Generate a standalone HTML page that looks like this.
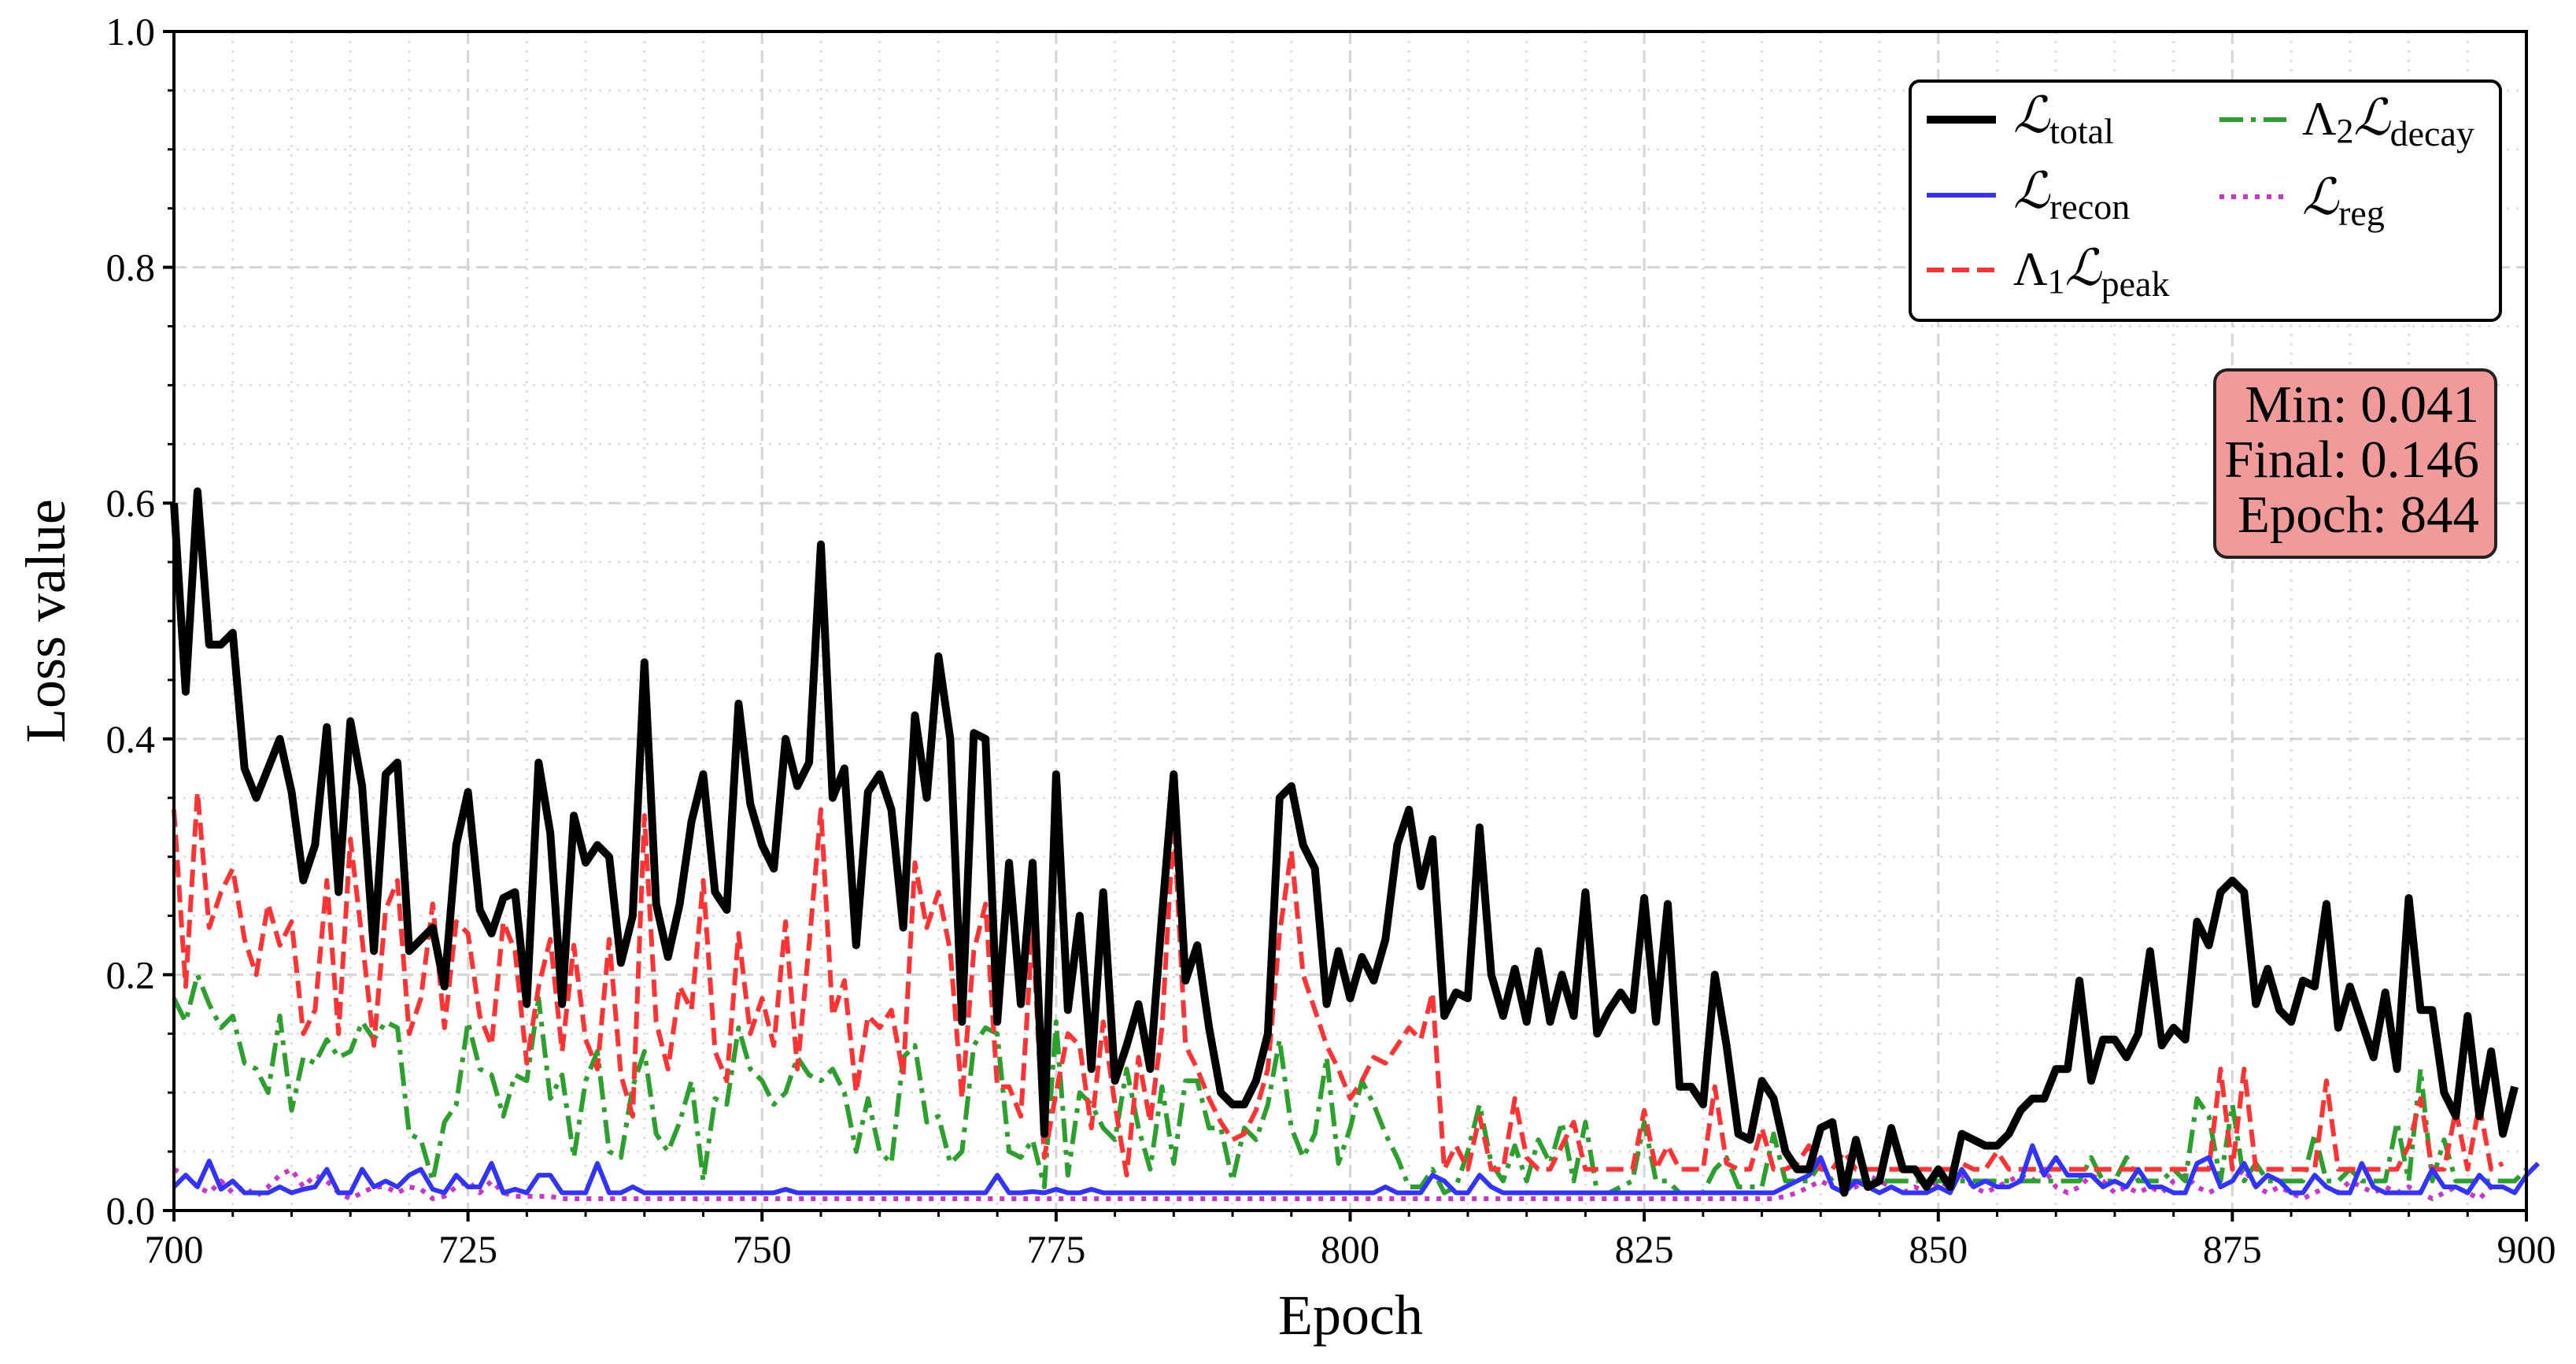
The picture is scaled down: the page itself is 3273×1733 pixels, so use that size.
<!DOCTYPE html>
<html><head><meta charset="utf-8"><style>
html,body{margin:0;padding:0;background:#fff;}
svg{display:block;font-family:"Liberation Serif","DejaVu Serif",serif;}
</style></head><body>
<svg id="chart" width="3273" height="1733" viewBox="0 0 3273 1733" xmlns="http://www.w3.org/2000/svg">
<rect x="0" y="0" width="3273" height="1733" fill="#fff"/>
<g id="grid"></g>
<g id="series"></g>
<g id="axes"></g>
<g>
<rect x="2427" y="103" width="750" height="304" rx="12" fill="#fff" stroke="#000" stroke-width="4"/>
<g>
<line x1="2448" y1="152" x2="2536" y2="152" stroke="#000" stroke-width="10"/>
<text x="2558" y="168" font-size="64" font-family="DejaVu Serif, serif" font-style="italic">ℒ<tspan font-size="46" dy="14" font-style="normal" font-family="Liberation Serif, serif">total</tspan></text>
</g>
<g>
<line x1="2448" y1="248" x2="2536" y2="248" stroke="#3333ff" stroke-width="6"/>
<text x="2558" y="264" font-size="64" font-family="DejaVu Serif, serif" font-style="italic">ℒ<tspan font-size="46" dy="14" font-style="normal" font-family="Liberation Serif, serif">recon</tspan></text>
</g>
<g>
<line x1="2448" y1="343" x2="2536" y2="343" stroke="#ff3333" stroke-width="6" stroke-dasharray="22,10"/>
<text x="2558" y="362" font-size="60">Λ<tspan font-size="44" dy="10">1</tspan><tspan dy="-10" font-size="64" font-family="DejaVu Serif, serif" font-style="italic">ℒ</tspan><tspan font-size="46" dy="14">peak</tspan></text>
</g>
<g>
<line x1="2820" y1="152" x2="2905" y2="152" stroke="#2ca02c" stroke-width="6" stroke-dasharray="30,10,6,10"/>
<text x="2925" y="171" font-size="60">Λ<tspan font-size="44" dy="10">2</tspan><tspan dy="-10" font-size="64" font-family="DejaVu Serif, serif" font-style="italic">ℒ</tspan><tspan font-size="46" dy="14">decay</tspan></text>
</g>
<g>
<line x1="2820" y1="250" x2="2905" y2="250" stroke="#cc33cc" stroke-width="6" stroke-dasharray="6,9"/>
<text x="2925" y="272" font-size="64" font-family="DejaVu Serif, serif" font-style="italic">ℒ<tspan font-size="46" dy="14" font-style="normal" font-family="Liberation Serif, serif">reg</tspan></text>
</g>
</g>
<g>
<rect x="2814" y="470" width="357" height="238" rx="16" fill="#f19a9a" stroke="#222" stroke-width="4"/>
<text x="3150" y="536" font-size="67" text-anchor="end">Min: 0.041</text>
<text x="3150" y="606" font-size="67" text-anchor="end">Final: 0.146</text>
<text x="3150" y="676" font-size="67" text-anchor="end">Epoch: 844</text>
</g>
<text x="1716" y="1695" font-size="72" text-anchor="middle">Epoch</text>
<text transform="translate(82,789) rotate(-90)" font-size="72" text-anchor="middle">Loss value</text>
</svg>
<script>
const epochStart = 700;
const total = [0.60,0.44,0.61,0.48,0.48,0.49,0.375,0.35,0.375,0.40,0.355,0.28,0.31,0.41,0.27,0.415,0.36,0.22,0.37,0.38,0.22,0.23,0.24,0.19,0.31,0.355,0.255,0.235,0.265,0.27,0.175,0.38,0.32,0.175,0.335,0.295,0.31,0.30,0.21,0.25,0.465,0.26,0.215,0.26,0.33,0.37,0.27,0.255,0.43,0.345,0.31,0.29,0.40,0.36,0.38,0.565,0.35,0.375,0.225,0.355,0.37,0.34,0.24,0.42,0.35,0.47,0.40,0.16,0.405,0.40,0.16,0.295,0.175,0.295,0.065,0.37,0.17,0.25,0.12,0.27,0.11,0.14,0.175,0.12,0.25,0.37,0.195,0.225,0.155,0.10,0.09,0.09,0.11,0.15,0.35,0.36,0.31,0.29,0.175,0.22,0.18,0.215,0.195,0.23,0.31,0.34,0.275,0.315,0.165,0.185,0.18,0.325,0.20,0.165,0.205,0.16,0.22,0.16,0.20,0.165,0.27,0.15,0.17,0.185,0.17,0.265,0.16,0.26,0.105,0.105,0.09,0.20,0.14,0.065,0.06,0.11,0.095,0.05,0.035,0.035,0.07,0.075,0.015,0.06,0.02,0.025,0.07,0.035,0.035,0.02,0.035,0.02,0.065,0.06,0.055,0.055,0.065,0.085,0.095,0.095,0.12,0.12,0.195,0.11,0.145,0.145,0.13,0.15,0.22,0.14,0.155,0.145,0.245,0.225,0.27,0.28,0.27,0.175,0.205,0.17,0.16,0.195,0.19,0.26,0.155,0.19,0.16,0.13,0.185,0.12,0.265,0.17,0.17,0.10,0.08,0.165,0.08,0.135,0.065,0.105];
const peak = [0.34,0.19,0.355,0.24,0.27,0.29,0.23,0.20,0.26,0.225,0.245,0.15,0.17,0.28,0.15,0.315,0.23,0.14,0.255,0.28,0.15,0.18,0.26,0.155,0.245,0.235,0.165,0.14,0.245,0.22,0.125,0.19,0.23,0.135,0.225,0.145,0.12,0.23,0.115,0.08,0.335,0.16,0.12,0.19,0.17,0.28,0.135,0.11,0.235,0.15,0.18,0.14,0.245,0.12,0.225,0.34,0.165,0.195,0.10,0.165,0.155,0.17,0.115,0.295,0.24,0.27,0.22,0.095,0.22,0.26,0.105,0.105,0.08,0.24,0.045,0.10,0.15,0.14,0.07,0.16,0.09,0.03,0.13,0.075,0.155,0.33,0.14,0.12,0.095,0.075,0.06,0.065,0.085,0.12,0.235,0.305,0.20,0.17,0.14,0.12,0.095,0.11,0.13,0.125,0.14,0.155,0.145,0.185,0.035,0.055,0.035,0.08,0.035,0.035,0.095,0.045,0.035,0.035,0.055,0.075,0.035,0.035,0.035,0.035,0.035,0.085,0.035,0.055,0.035,0.035,0.035,0.105,0.04,0.035,0.035,0.07,0.035,0.035,0.04,0.055,0.035,0.035,0.05,0.035,0.035,0.035,0.035,0.035,0.035,0.035,0.035,0.035,0.04,0.035,0.035,0.05,0.035,0.035,0.035,0.035,0.035,0.035,0.035,0.035,0.035,0.035,0.035,0.035,0.035,0.035,0.035,0.035,0.035,0.035,0.12,0.035,0.12,0.035,0.035,0.035,0.035,0.035,0.035,0.11,0.035,0.035,0.035,0.035,0.035,0.035,0.055,0.095,0.035,0.035,0.085,0.035,0.09,0.035,0.04];
const decay = [0.18,0.16,0.20,0.175,0.155,0.165,0.125,0.12,0.10,0.165,0.085,0.13,0.125,0.145,0.13,0.135,0.16,0.145,0.16,0.155,0.065,0.06,0.025,0.075,0.09,0.16,0.12,0.115,0.08,0.115,0.11,0.18,0.095,0.115,0.045,0.11,0.135,0.05,0.045,0.105,0.135,0.065,0.05,0.075,0.11,0.025,0.095,0.09,0.155,0.12,0.11,0.09,0.10,0.13,0.115,0.11,0.12,0.10,0.05,0.095,0.05,0.04,0.13,0.14,0.075,0.08,0.04,0.05,0.14,0.155,0.15,0.05,0.045,0.06,0.02,0.16,0.03,0.10,0.09,0.07,0.06,0.12,0.07,0.035,0.105,0.04,0.11,0.11,0.07,0.07,0.025,0.07,0.06,0.09,0.145,0.07,0.045,0.065,0.13,0.04,0.07,0.11,0.09,0.065,0.045,0.02,0.02,0.035,0.015,0.02,0.05,0.09,0.04,0.025,0.055,0.025,0.06,0.04,0.075,0.025,0.075,0.015,0.015,0.02,0.025,0.075,0.025,0.025,0.015,0.015,0.015,0.035,0.045,0.02,0.02,0.02,0.065,0.025,0.025,0.025,0.04,0.025,0.025,0.025,0.025,0.025,0.025,0.025,0.025,0.025,0.025,0.025,0.025,0.025,0.025,0.025,0.025,0.025,0.025,0.025,0.025,0.025,0.025,0.045,0.025,0.025,0.045,0.025,0.025,0.025,0.035,0.025,0.095,0.08,0.025,0.09,0.025,0.04,0.025,0.025,0.025,0.025,0.065,0.025,0.025,0.035,0.025,0.025,0.025,0.075,0.025,0.12,0.025,0.06,0.025,0.025,0.025,0.025,0.025,0.025,0.035];
const recon = [0.02,0.03,0.02,0.042,0.018,0.025,0.015,0.015,0.015,0.02,0.015,0.018,0.02,0.035,0.015,0.015,0.035,0.02,0.025,0.02,0.03,0.035,0.018,0.015,0.03,0.02,0.02,0.04,0.015,0.018,0.015,0.03,0.03,0.015,0.015,0.015,0.04,0.015,0.015,0.02,0.015,0.015,0.015,0.015,0.015,0.015,0.015,0.015,0.015,0.015,0.015,0.015,0.018,0.015,0.015,0.015,0.015,0.015,0.015,0.015,0.015,0.015,0.015,0.015,0.015,0.015,0.015,0.015,0.015,0.015,0.03,0.015,0.015,0.016,0.015,0.018,0.015,0.015,0.018,0.015,0.015,0.015,0.015,0.015,0.015,0.015,0.015,0.015,0.015,0.015,0.015,0.015,0.015,0.015,0.015,0.015,0.015,0.015,0.015,0.015,0.015,0.015,0.015,0.02,0.015,0.015,0.015,0.03,0.025,0.015,0.015,0.03,0.02,0.015,0.015,0.015,0.015,0.015,0.015,0.015,0.015,0.015,0.015,0.015,0.015,0.015,0.015,0.015,0.015,0.015,0.015,0.015,0.015,0.015,0.015,0.015,0.015,0.02,0.025,0.03,0.045,0.02,0.015,0.025,0.02,0.015,0.02,0.015,0.015,0.015,0.02,0.015,0.035,0.02,0.025,0.02,0.02,0.025,0.055,0.03,0.045,0.03,0.03,0.03,0.02,0.025,0.02,0.035,0.02,0.02,0.015,0.015,0.04,0.045,0.02,0.025,0.04,0.02,0.03,0.025,0.015,0.015,0.03,0.02,0.015,0.015,0.04,0.02,0.015,0.015,0.015,0.015,0.035,0.02,0.02,0.015,0.03,0.02,0.02,0.015,0.03,0.04];
const reg = [0.035,0.03,0.02,0.015,0.025,0.015,0.02,0.012,0.02,0.03,0.035,0.02,0.03,0.025,0.015,0.01,0.015,0.02,0.02,0.015,0.02,0.018,0.01,0.012,0.02,0.025,0.015,0.025,0.015,0.012,0.012,0.012,0.012,0.01,0.01,0.01,0.01,0.01,0.01,0.01,0.01,0.01,0.01,0.01,0.01,0.01,0.01,0.01,0.01,0.01,0.01,0.01,0.01,0.01,0.01,0.01,0.01,0.01,0.01,0.01,0.01,0.01,0.01,0.01,0.01,0.01,0.01,0.01,0.01,0.01,0.01,0.01,0.01,0.01,0.01,0.01,0.01,0.01,0.01,0.01,0.01,0.01,0.01,0.01,0.01,0.01,0.01,0.01,0.01,0.01,0.01,0.01,0.01,0.01,0.01,0.01,0.01,0.01,0.01,0.01,0.01,0.01,0.01,0.01,0.01,0.01,0.01,0.01,0.01,0.01,0.01,0.01,0.01,0.01,0.01,0.01,0.01,0.01,0.01,0.01,0.01,0.01,0.01,0.01,0.01,0.01,0.01,0.01,0.01,0.01,0.01,0.01,0.01,0.01,0.01,0.01,0.01,0.012,0.015,0.02,0.025,0.02,0.015,0.02,0.03,0.025,0.02,0.015,0.02,0.015,0.025,0.02,0.03,0.02,0.015,0.02,0.025,0.03,0.025,0.035,0.02,0.015,0.02,0.03,0.025,0.015,0.02,0.015,0.02,0.015,0.025,0.03,0.02,0.015,0.02,0.025,0.035,0.02,0.015,0.02,0.015,0.01,0.015,0.02,0.015,0.025,0.02,0.015,0.02,0.015,0.02,0.015,0.01,0.015,0.02,0.015,0.01,0.02];
const xTickLabels = ["700","725","750","775","800","825","850","875","900"];
const yTickLabels = ["0.0","0.2","0.4","0.6","0.8","1.0"];

const NS = "http://www.w3.org/2000/svg";
const L = 221, R = 3210, T = 40, B = 1538;
const xMin = 700, xMax = 900, yMin = 0, yMax = 1;
function xs(v){ return L + (v - xMin) / (xMax - xMin) * (R - L); }
function ys(v){ return B - (v - yMin) / (yMax - yMin) * (B - T); }
function mk(tag, attrs, parent){ const e = document.createElementNS(NS, tag); for (const k in attrs) e.setAttribute(k, attrs[k]); parent.appendChild(e); return e; }

const grid = document.getElementById('grid');
for (let e = 705; e < 900; e += 5) {
  if ((e - 700) % 25 === 0) continue;
  const g = mk('line', {x1: xs(e), x2: xs(e), y1: T, y2: B, stroke: '#e0e0e0', 'stroke-width': 3, 'stroke-dasharray': '3,9'}, grid);
  
  
}
for (let k = 1; k < 20; k++) {
  if (k % 4 === 0) continue;
  const v = k * 0.05;
  const g = mk('line', {x1: L, x2: R, y1: ys(v), y2: ys(v), stroke: '#e0e0e0', 'stroke-width': 3, 'stroke-dasharray': '3,9'}, grid);
  
  
}
xTickLabels.forEach(function(t){
  const v = +t;
  const g = mk('line', {x1: xs(v), x2: xs(v), y1: T, y2: B, stroke: '#d4d4d4', 'stroke-width': 3, 'stroke-dasharray': '16,8'}, grid);
  
  
});
yTickLabels.forEach(function(t){
  const v = +t;
  const g = mk('line', {x1: L, x2: R, y1: ys(v), y2: ys(v), stroke: '#d4d4d4', 'stroke-width': 3, 'stroke-dasharray': '16,8'}, grid);
  
  
});

const seriesG = document.getElementById('series');
function drawSeries(arr, name, color, width, dash){
  const pts = arr.map(function(v, i){ return xs(epochStart + i).toFixed(1) + ',' + ys(v).toFixed(1); }).join(' ');
  const attrs = {points: pts, fill: 'none', stroke: color, 'stroke-width': width, 'stroke-linejoin': 'round', 'stroke-linecap': 'butt'};
  if (dash) attrs['stroke-dasharray'] = dash;
  const p = mk('polyline', attrs, seriesG);
  
  
}
drawSeries(reg, 'series-reg', '#cc33cc', 6, '6,9');
drawSeries(decay, 'series-decay', '#2ca02c', 6, '30,10,6,10');
drawSeries(peak, 'series-peak', '#ff3333', 6, '22,10');
drawSeries(recon, 'series-recon', '#3333ff', 6, null);
drawSeries(total, 'series-total', '#000000', 10, null);

const axes = document.getElementById('axes');
const frame = mk('rect', {x: L, y: T, width: R - L, height: B - T, fill: 'none', stroke: '#000', 'stroke-width': 4}, axes);


for (let e = 700; e <= 900; e += 5) {
  const major = (e - 700) % 25 === 0;
  const t = mk('line', {x1: xs(e), x2: xs(e), y1: B, y2: B + (major ? 14 : 8), stroke: '#000', 'stroke-width': major ? 4 : 3}, axes);
  
  
}
for (let k = 0; k <= 20; k++) {
  const major = k % 4 === 0;
  const v = k * 0.05;
  const t = mk('line', {x1: L - (major ? 14 : 8), x2: L, y1: ys(v), y2: ys(v), stroke: '#000', 'stroke-width': major ? 4 : 3}, axes);
  
  
}
xTickLabels.forEach(function(t){
  const tx = mk('text', {x: xs(+t), y: B + 66, 'font-size': 50, 'text-anchor': 'middle'}, axes);
  tx.textContent = t;
  
  
});
yTickLabels.forEach(function(t){
  const tx = mk('text', {x: L - 24, y: ys(+t) + 17, 'font-size': 50, 'text-anchor': 'end'}, axes);
  tx.textContent = t;
  
  
});
</script>
</body></html>
